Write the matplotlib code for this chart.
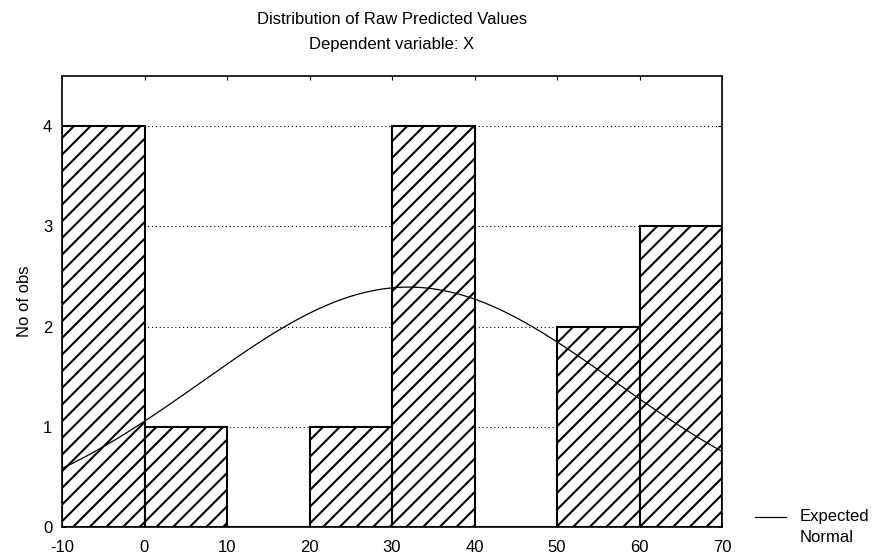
import numpy as np
import matplotlib
matplotlib.use("Agg")
import matplotlib.pyplot as plt

plt.rcParams['font.family'] = ['Liberation Sans', 'DejaVu Sans']
plt.rcParams['hatch.linewidth'] = 1.5
plt.rcParams['axes.unicode_minus'] = False

bin_edges = [-10, 0, 10, 20, 30, 40, 50, 60, 70]
counts = [4, 1, 0, 1, 4, 0, 2, 3]
# expected normal fitted to the predicted values
fit_mean = 32.0
fit_sd = 25.0
n_obs = sum(counts)

fig = plt.figure(figsize=(8.75, 5.54), dpi=100)
ax = fig.add_axes([62 / 875, 1 - 527 / 554, 660 / 875, 451 / 554])

lefts = bin_edges[:-1]
width = bin_edges[1] - bin_edges[0]
ax.bar(lefts, counts, width=width, align='edge', color='white',
       edgecolor='black', linewidth=1.5, hatch='//', zorder=2)

x = np.linspace(bin_edges[0], bin_edges[-1], 300)
y = n_obs * width * np.exp(-0.5 * ((x - fit_mean) / fit_sd) ** 2) / (fit_sd * np.sqrt(2 * np.pi))
ax.plot(x, y, color='black', lw=0.9, zorder=3)

ax.set_xlim(bin_edges[0], bin_edges[-1])
ax.set_ylim(0, 4.5)
ax.set_xticks(bin_edges)
ax.set_yticks([0, 1, 2, 3, 4])
ax.yaxis.grid(True, linestyle=(0, (1, 2.5)), color='black', lw=0.8, zorder=1)
ax.set_axisbelow(True)
ax.tick_params(direction='in', length=3, top=True, right=True, labelsize=12)
ax.tick_params(axis='x', pad=9)
ax.tick_params(axis='y', pad=7)
for s in ax.spines.values():
    s.set_linewidth(1.2)

ax.set_ylabel('No of obs', fontsize=12, labelpad=8)
fig.text(392 / 875, 1 - 19 / 554, 'Distribution of Raw Predicted Values', ha='center', va='center', fontsize=12)
fig.text(392 / 875, 1 - 45 / 554, 'Dependent variable: X', ha='center', va='center', fontsize=12)

fig.lines.append(plt.Line2D([755 / 875, 786 / 875], [1 - 517 / 554, 1 - 517 / 554],
                            transform=fig.transFigure, color='black', lw=0.9))
fig.text(800 / 875, 1 - 517 / 554, 'Expected', ha='left', va='center', fontsize=12)
fig.text(800 / 875, 1 - 537 / 554, 'Normal', ha='left', va='center', fontsize=12)

fig.savefig('out.png', dpi=100)
